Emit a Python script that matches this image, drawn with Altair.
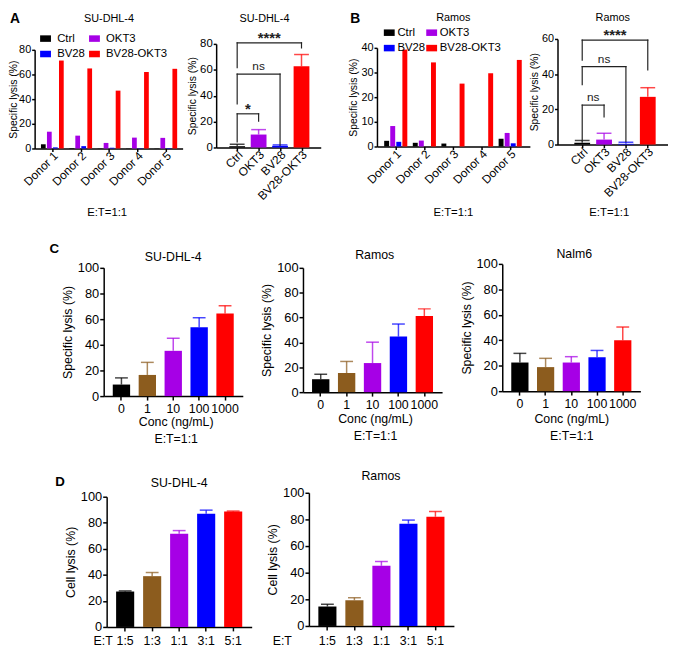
import json
import altair as alt
import pandas as pd

FONT = "Liberation Sans"

# ---------------- data ----------------
groups = ["Ctrl", "OKT3", "BV28", "BV28-OKT3"]
group_colors = ["#000000", "#A600E6", "#0000FF", "#FF0000"]
donors = ["Donor 1", "Donor 2", "Donor 3", "Donor 4", "Donor 5"]

# A left: SU-DHL-4 per donor
a_ctrl = [3.4, 0.4, 0.1, 0.2, 0.2]
a_okt3 = [13.6, 10.4, 4.5, 8.8, 8.6]
a_bv28 = [0.9, 1.9, 0.6, 0.3, 0.4]
a_bv28okt3 = [71.3, 64.9, 46.9, 62.0, 64.6]

# B left: Ramos per donor
b_ctrl = [2.3, 1.5, 1.2, 0.0, 3.1]
b_okt3 = [8.3, 2.4, 0.0, 0.0, 5.5]
b_bv28 = [1.9, 0.0, 0.0, 0.0, 1.3]
b_bv28okt3 = [39.3, 34.1, 25.5, 29.7, 35.1]

# A right / B right: mean and upper error
a_mean = [1.0, 10.0, 1.3, 62.7]
a_upper = [2.5, 13.8, 2.0, 71.8]
b_mean = [1.0, 2.8, 0.4, 27.1]
b_upper = [2.3, 6.4, 1.3, 32.3]

# significance brackets (group index from / to)
a_sig_from = [0, 0, 0]
a_sig_to = [1, 2, 3]
a_sig_top = [26.0, 56.6, 80.8]
a_sig_from_end = [4.3, 33.6, 61.7]
a_sig_to_end = [20.4, 1.8, 76.9]
a_sig_label = ["*", "ns", "****"]

b_sig_from = [0, 0, 0]
b_sig_to = [1, 2, 3]
b_sig_top = [22.4, 44.3, 59.3]
b_sig_from_end = [2.2, 34.0, 48.0]
b_sig_to_end = [15.7, 1.7, 42.4]
b_sig_label = ["ns", "ns", "****"]

# C: concentration series
conc = ["0", "1", "10", "100", "1000"]
five_colors = ["#000000", "#8C5C1E", "#A600E6", "#0000FF", "#FF0000"]
c_sudhl4_mean = [9.0, 16.5, 35.3, 53.6, 64.4]
c_sudhl4_upper = [14.2, 26.3, 45.1, 61.1, 70.4]
c_ramos_mean = [10.4, 15.4, 23.4, 44.7, 61.2]
c_ramos_upper = [14.4, 24.7, 40.2, 54.8, 67.0]
c_nalm6_mean = [22.5, 18.9, 22.5, 26.6, 40.0]
c_nalm6_upper = [29.7, 25.8, 27.1, 32.0, 50.4]

# D: E:T ratio series
ratios = ["1:5", "1:3", "1:1", "3:1", "5:1"]
d_sudhl4_mean = [27.2, 39.0, 71.5, 86.9, 88.7]
d_sudhl4_upper = [27.7, 41.8, 74.0, 89.7, 89.0]
d_ramos_mean = [14.6, 19.3, 45.2, 76.8, 82.0]
d_ramos_upper = [16.3, 21.2, 48.4, 79.5, 85.9]

GROUP_GAP = 0.212  # spacing of the 4 bars inside a donor group, in donor units
ERR_OPACITY = 0.72


# ---------------- helpers ----------------
def text_layer(txt, x, y, fs, bold=False, align="center"):
    return alt.Chart(pd.DataFrame({"t": [txt]})).mark_text(
        font=FONT, fontSize=fs, fontWeight="bold" if bold else "normal",
        align=align, baseline="alphabetic", color="black"
    ).encode(text="t:N", x=alt.value(x), y=alt.value(y))


def y_axis(ymax, ystep, title, lfs, tfs, lpad, tpad, tick=3):
    return alt.Axis(values=list(range(0, ymax + 1, ystep)), title=title,
                    labelFontSize=lfs, titleFontSize=tfs, labelPadding=lpad,
                    titlePadding=tpad, tickSize=tick)


def cat_axis(cats, et):
    kw = dict(values=list(range(len(cats))),
              labelExpr=json.dumps(cats) + "[datum.value]",
              labelAngle=-45, labelAlign="right", labelBaseline="middle",
              labelFontSize=12, labelPadding=2, labelOffset=3, tickSize=3)
    if et:
        kw.update(title="E:T=1:1", titleFontSize=11.5, titleX=et[0], titleY=et[1],
                  titleBaseline="alphabetic", titleAlign="center")
    else:
        kw.update(title=None)
    return alt.Axis(**kw)


def grouped_panel(vals, ymax, ystep, xdom, plot_w, group_w, h, top, bar_px,
                  title_txt, title_left, title_y, leg_x, leg_y, leg_off, leg_cp, et,
                  ylfs, ytfs, ytpad, letter):
    rows = []
    for gi, g in enumerate(groups):
        for di, d in enumerate(donors):
            rows.append({"pos": di + (gi - 1.5) * GROUP_GAP, "group": g,
                         "value": vals[gi][di]})
    df = pd.DataFrame(rows)
    xscale = alt.Scale(domain=xdom, range=[0, plot_w], nice=False, zero=False)
    bars = alt.Chart(df).mark_bar(size=bar_px).encode(
        x=alt.X("pos:Q", scale=xscale, axis=cat_axis(donors, et)),
        y=alt.Y("value:Q", scale=alt.Scale(domain=[0, ymax], range=[h, top], nice=False),
                axis=y_axis(ymax, ystep, "Specific lysis (%)", ylfs, ytfs, 1, ytpad)),
        color=alt.Color("group:N", sort=groups,
                        scale=alt.Scale(domain=groups, range=group_colors),
                        legend=alt.Legend(orient="none", legendX=leg_x, legendY=leg_y,
                                          direction="horizontal", columns=2, title=None,
                                          symbolType="M-1,-0.6H1V0.6H-1Z", symbolSize=121,
                                          symbolStrokeWidth=0, labelFontSize=11.5,
                                          labelFont=FONT, labelColor="black",
                                          labelOffset=leg_off, columnPadding=leg_cp,
                                          rowPadding=3, padding=0)),
    )
    return alt.layer(
        bars,
        text_layer(title_txt, title_left, title_y, 11, align="left"),
        text_layer(letter[0], letter[1], letter[2], 14, bold=True, align="left"),
    ).properties(width=group_w, height=h)


def sig_panel(means, uppers, s_from, s_to, s_top, s_from_end, s_to_end, s_label,
              ymax, ystep, xdom, plot_w, group_w, h, top, title_txt, title_x, title_y,
              et, ytpad, ylfs):
    df = pd.DataFrame({"idx": list(range(len(groups))), "group": groups,
                       "mean": means, "upper": uppers, "color": group_colors})
    bdf = pd.DataFrame({"left": s_from, "right": s_to, "top": s_top,
                        "lend": s_from_end, "rend": s_to_end, "label": s_label})
    bdf["mid"] = (bdf["left"] + bdf["right"]) / 2
    xscale = alt.Scale(domain=xdom, range=[0, plot_w], nice=False, zero=False)
    xaxis = cat_axis(groups, et)
    yscale = alt.Scale(domain=[0, ymax], range=[h, top], nice=False)
    yaxis = y_axis(ymax, ystep, "Specific lysis (%)", ylfs, 10.5, 1, ytpad)

    def X(f):
        return alt.X(f + ":Q", scale=xscale, axis=xaxis)

    def Y(f):
        return alt.Y(f + ":Q", scale=yscale, axis=yaxis)

    col = alt.Color("color:N", scale=None)
    bars = alt.Chart(df).mark_bar(size=16).encode(x=X("idx"), y=Y("mean"), color=col)
    err = alt.Chart(df).mark_rule(strokeWidth=1.5, opacity=ERR_OPACITY).encode(
        x=X("idx"), y=Y("mean"), y2=alt.Y2("upper:Q"), color=col)
    cap = alt.Chart(df).mark_tick(orient="horizontal", size=15, thickness=1.5,
                                  opacity=ERR_OPACITY).encode(
        x=X("idx"), y=Y("upper"), color=col)
    br = alt.Chart(bdf)
    rule_kw = dict(color="#222222", strokeWidth=1.2, strokeCap="square")
    hline = br.mark_rule(**rule_kw).encode(x=X("left"), x2=alt.X2("right:Q"), y=Y("top"))
    lleg = br.mark_rule(**rule_kw).encode(x=X("left"), y=Y("lend"), y2=alt.Y2("top:Q"))
    rleg = br.mark_rule(**rule_kw).encode(x=X("right"), y=Y("rend"), y2=alt.Y2("top:Q"))
    stars = br.transform_filter("datum.label != 'ns'").mark_text(
        font=FONT, fontSize=15, fontWeight="bold", baseline="alphabetic", color="#222222"
    ).encode(x=X("mid"), y=Y("top"), text="label:N")
    ns = br.transform_filter("datum.label == 'ns'").mark_text(
        font=FONT, fontSize=12, baseline="alphabetic", dy=-4, color="#222222"
    ).encode(x=X("mid"), y=Y("top"), text="label:N")
    return alt.layer(bars, err, cap, hline, lleg, rleg, stars, ns,
                     text_layer(title_txt, title_x, title_y, 11)
                     ).properties(width=group_w, height=h)


def series_panel(cats, means, uppers, colors, plot_w, group_w, h, top, ytitle,
                 title_txt, title_x, title_y, xtitle, xt_x, xt_y, lpad, letter=None,
                 cap=13):
    df = pd.DataFrame({"cat": cats, "mean": means, "upper": uppers, "color": colors})
    xscale = alt.Scale(domain=cats, range=[0, plot_w], paddingInner=0.33, paddingOuter=0.35)
    xaxis = alt.Axis(labelAngle=0, labelFontSize=12.5, labelPadding=lpad, tickSize=4,
                     title=xtitle, titleFontSize=12.5, titleX=xt_x, titleY=xt_y,
                     titleBaseline="alphabetic", titleAlign="center", titleLineHeight=17)
    yscale = alt.Scale(domain=[0, 100], range=[h, top], nice=False)
    yaxis = y_axis(100, 20, ytitle, 13, 12.5, 1, 3, tick=4)
    X = alt.X("cat:N", sort=cats, scale=xscale, axis=xaxis)
    col = alt.Color("color:N", scale=None)
    bars = alt.Chart(df).mark_bar().encode(
        x=X, y=alt.Y("mean:Q", scale=yscale, axis=yaxis), color=col)
    err = alt.Chart(df).mark_rule(strokeWidth=1.5, opacity=ERR_OPACITY).encode(
        x=X, y=alt.Y("mean:Q", scale=yscale, axis=yaxis), y2=alt.Y2("upper:Q"), color=col)
    capm = alt.Chart(df).mark_tick(orient="horizontal", size=cap, thickness=1.5,
                                   opacity=ERR_OPACITY).encode(
        x=X, y=alt.Y("upper:Q", scale=yscale, axis=yaxis), color=col)
    layers = [bars, err, capm, text_layer(title_txt, title_x, title_y, 12.5)]
    if letter:
        layers.append(text_layer(letter[0], letter[1], letter[2], 13.5, bold=True, align="left"))
    return alt.layer(*layers).properties(width=group_w, height=h)


def spacer(w):
    return alt.Chart(pd.DataFrame({"a": [0]})).mark_point(opacity=0).properties(width=w, height=10)


# ---------------- row 1 (A, B) ----------------
a_left = grouped_panel([a_ctrl, a_okt3, a_bv28, a_bv28okt3], 80, 20, [-0.45, 4.42], 150, 184,
                       111, 11, 4.8, "SU-DHL-4", 50, -17, 5.3, -6.5, 6, 3.6, (73, 68),
                       11, 10.5, 0, ("A", -25, -16))
a_right = sig_panel(a_mean, a_upper, a_sig_from, a_sig_to, a_sig_top, a_sig_from_end,
                    a_sig_to_end, a_sig_label, 80, 20, [-0.75, 3.667], 106, 163, 110, 5,
                    "SU-DHL-4", 49, -17, None, 2, 11.5)
b_left = grouped_panel([b_ctrl, b_okt3, b_bv28, b_bv28okt3], 40, 10, [-0.484, 4.516], 155, 183,
                       109, 9, 5, "Ramos", 60, -18, 6.7, -12.5, 2.5, 0, (77, 70),
                       11, 10.5, 2, ("B", -27, -16))
b_right = sig_panel(b_mean, b_upper, b_sig_from, b_sig_to, b_sig_top, b_sig_from_end,
                    b_sig_to_end, b_sig_label, 60, 20, [-0.905, 3.70], 112, 112, 107, 0,
                    "Ramos", 56, -18, (52, 72), 2, 11)
row1 = alt.hconcat(a_left, a_right, b_left, b_right, spacing=0, bounds="flush")

# ---------------- row 2 (C) ----------------
c_title = ["Conc (ng/mL)", "E:T=1:1"]
c1 = series_panel(conc, c_sudhl4_mean, c_sudhl4_upper, five_colors, 141, 202, 134, 4,
                  "Specific lysis (%)", "SU-DHL-4", 70.5, -3, c_title, 73, 30, 3,
                  letter=("C", -55, -11))
c2 = series_panel(conc, c_ramos_mean, c_ramos_upper, five_colors, 141, 202, 130, 4,
                  "Specific lysis (%)", "Ramos", 72.7, -5, c_title, 73, 31, 3)
c3 = series_panel(conc, c_nalm6_mean, c_nalm6_upper, five_colors, 140, 140, 129, 0,
                  "Specific lysis (%)", "Nalm6", 73, -6, c_title, 70, 32, 3)
row2 = alt.hconcat(spacer(69.7), c1, c2, c3, spacing=0, bounds="flush")

# ---------------- row 3 (D) ----------------
d1 = series_panel(ratios, d_sudhl4_mean, d_sudhl4_upper, five_colors, 147, 205, 136, 4,
                  "Cell lysis (%)", "SU-DHL-4", 73.5, -6, "E:T", -4, 18, 4,
                  letter=("D", -52, -7))
d2 = series_panel(ratios, d_ramos_mean, d_ramos_upper, five_colors, 147, 147, 135, 0,
                  "Cell lysis (%)", "Ramos", 73, -13, "E:T", -27.5, 19, 5)
row3 = alt.hconcat(spacer(72.7), d1, d2, spacing=0, bounds="flush")

res = dict(color="independent")
row1 = row1.resolve_scale(**res)
row2 = row2.resolve_scale(**res)
row3 = row3.resolve_scale(**res)
lower = alt.vconcat(row2, row3, spacing=25).resolve_scale(**res)
chart = alt.vconcat(row1, lower, spacing=24).resolve_scale(**res).properties(
    padding=0, background="white"
).configure_view(stroke=None).configure_axis(
    domainColor="black", tickColor="black", labelColor="black", titleColor="black",
    grid=False, labelFont=FONT, titleFont=FONT, titleFontWeight="normal",
    domainWidth=1.5, tickWidth=1.5, labelOverlap=False, labelFlush=False
)

chart.save("out.html", embed_options={"renderer": "svg", "actions": False})
